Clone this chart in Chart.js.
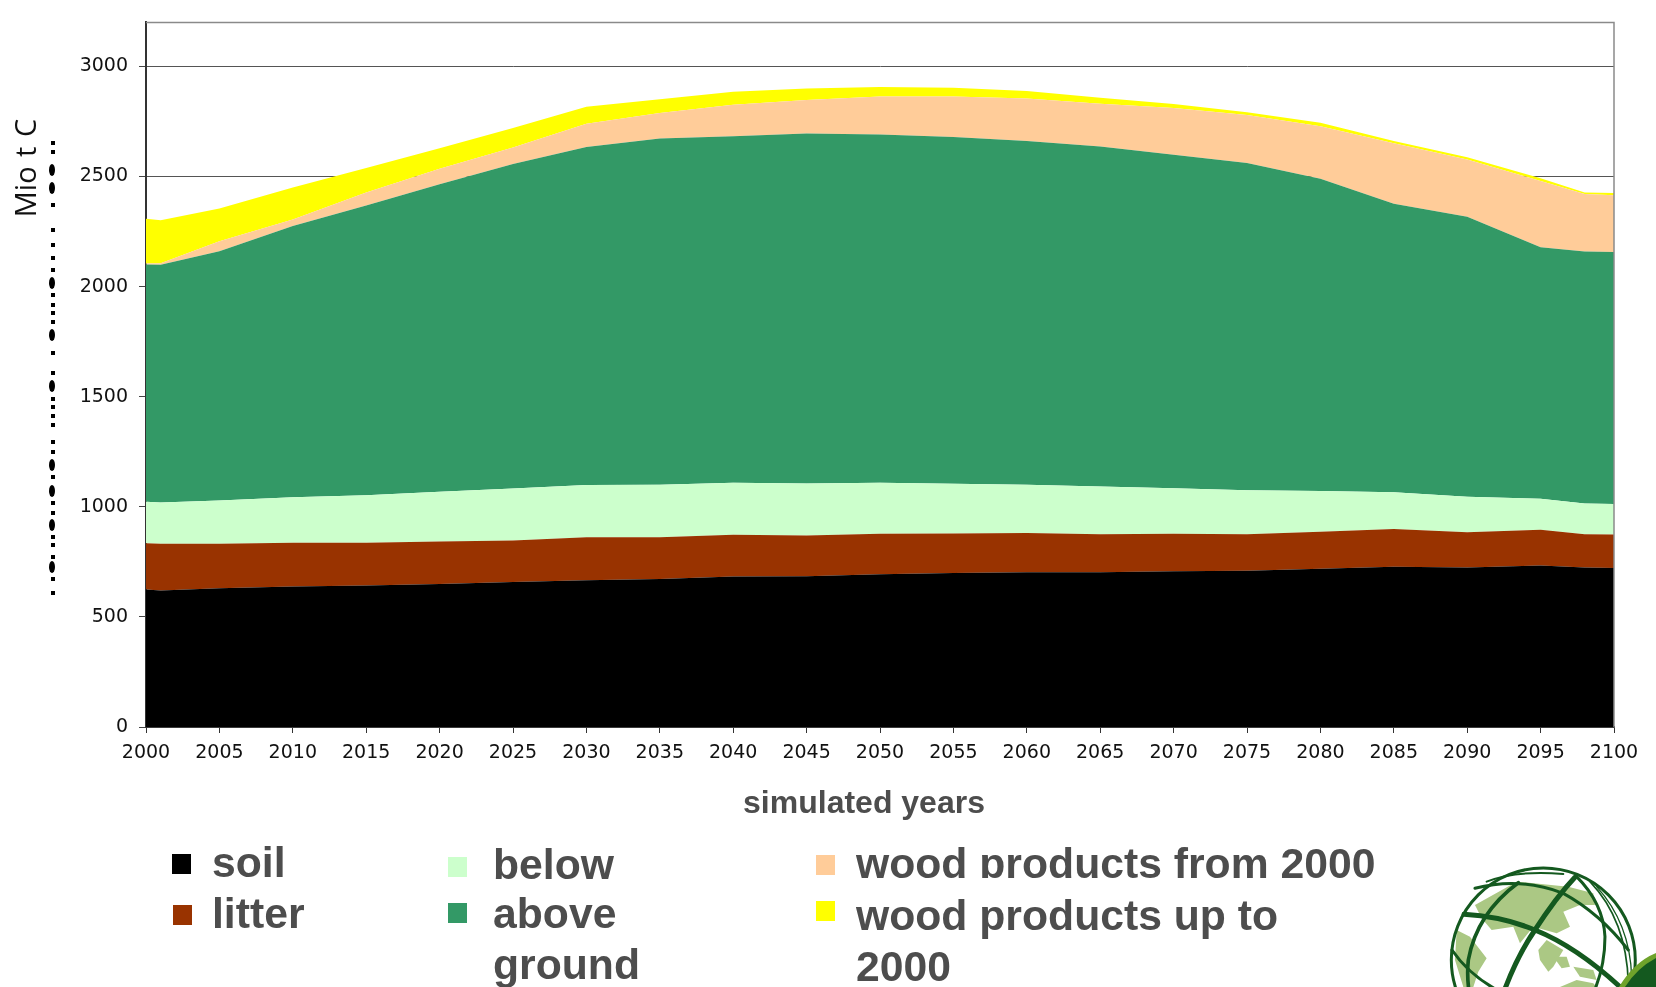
<!DOCTYPE html>
<html><head><meta charset="utf-8">
<script src="https://cdn.jsdelivr.net/npm/chart.js@4"></script>
<style>
html,body{margin:0;padding:0;background:#fff;width:1656px;height:987px;overflow:hidden}
#wrap{position:absolute;left:0;top:0;width:1656px;height:987px}
.lg{position:absolute;font:bold 42.7px "Liberation Sans",Arial,sans-serif;color:#4d4d4d;white-space:nowrap;line-height:48px;height:48px;overflow:hidden}
.sw{position:absolute;width:19px;height:20px}
#mio{position:absolute;left:24px;top:168px;font:29px "Open Sans",sans-serif;word-spacing:2px;color:#111;transform:translate(-50%,-50%) rotate(-90deg);white-space:nowrap}
#xt{position:absolute;left:864px;top:802px;font:bold 32px "Liberation Sans",Arial,sans-serif;color:#4d4d4d;transform:translate(-50%,-50%);white-space:nowrap}
svg{position:absolute;left:0;top:0}
</style></head>
<body><div id="wrap"><canvas id="c" width="1656" height="987"></canvas>
<svg width="1656" height="987" viewBox="0 0 1656 987">
 <g id="dots" fill="#000"></g>
 <g transform="translate(1300 780) scale(0.3333)">
  <g fill="#abc884">
   <path d="M525 375 L650 305 L805 320 L880 340 L885 375 L840 375 L790 395 L810 440 L770 460 L700 440 L660 490 L640 440 L575 450 L545 415Z"/>
   <path d="M470 450 L510 470 L560 535 L535 575 L520 621 L490 621 L465 540Z"/>
   <path d="M715 510 L740 480 L790 510 L760 560 L745 575 L720 540Z"/>
   <path d="M760 530 L800 530 L810 560 L785 565Z"/>
   <path d="M820 560 L880 570 L890 600 L840 590Z"/>
   <path d="M780 621 L830 600 L880 610 L890 621Z"/>
  </g>
  <g fill="none" stroke="#14591f" stroke-linecap="round">
   <circle cx="730" cy="540" r="276" stroke-width="9"/>
   <path d="M825 292 Q770 350 705 450 Q650 530 610 640" stroke-width="15"/>
   <path d="M492 403 Q610 410 705 450 Q830 500 965 625" stroke-width="15"/>
   <path d="M655 308 Q530 400 505 540 Q500 590 508 640" stroke-width="11"/>
   <path d="M525 325 Q660 290 790 340 Q900 400 985 510" stroke-width="9"/>
   <path d="M830 290 Q910 370 915 470 Q915 560 880 640" stroke-width="9"/>
   <path d="M456 510 Q510 590 610 640" stroke-width="9"/>
   <path d="M560 305 Q650 270 790 282" stroke-width="6"/>
   <path d="M870 305 Q980 420 985 610" stroke-width="5"/>
   <path d="M890 320 Q990 430 995 590" stroke-width="4"/>
  </g>
 </g>
 <path d="M1621 987 Q1635 965 1656 956 L1656 987Z" fill="#14591f"/>
 <path d="M1619 987 Q1634 962 1656 953 L1656 958 Q1637 968 1625 987Z" fill="#6fa32b"/>
</svg>
<div id="mio">Mio t C</div>
<div id="xt"></div>
<div id="legend"></div>
</div>
<script>
const years = [2000,2001,2005,2010,2015,2020,2025,2030,2035,2040,2045,2050,2055,2060,2065,2070,2075,2080,2085,2090,2095,2098,2100];
const soil = [624,620,630,638,643,650,659,667,672,684,685,694,699,703,703,707,710,719,728,724,733,724,722];
const litter = [211,212,202,199,194,192,188,195,190,189,185,184,180,178,172,171,165,168,171,160,163,151,152];
const below = [188,188,197,206,216,226,236,237,238,236,236,231,226,219,217,206,200,185,167,162,141,140,139];
const above = [1077,1079,1132,1232,1315,1397,1474,1535,1573,1574,1589,1582,1575,1561,1544,1515,1487,1418,1310,1271,1142,1145,1144];
const woodFrom2000 = [5,7,45,30,60,70,75,106,116,143,153,173,184,193,194,212,218,238,275,260,301,261,258];
const woodUpTo2000 = [203,196,149,145,111,93,88,77,62,59,52,43,39,34,28,18,12,16,10,10,12,6,10];
const yTicks = [0,500,1000,1500,2000,2500,3000];
const xTitle = 'simulated years';
const colors = ['#000000','#993300','#ccffcc','#339966','#ffcc99','#ffff00'];
const names = ['soil','litter','below ground','above ground','wood products from 2000','wood products up to 2000'];
const series = [soil,litter,below,above,woodFrom2000,woodUpTo2000];
const axisFont = '"DejaVu Sans",sans-serif';

const frame = {id:'frame',afterDraw(ch){
  const a=ch.chartArea,c=ch.ctx;c.save();c.strokeStyle='#8a8a8a';c.lineWidth=1.5;
  c.beginPath();c.moveTo(a.left,a.top);c.lineTo(a.right,a.top);c.lineTo(a.right,a.bottom);c.stroke();c.restore();
}};

new Chart(document.getElementById('c'),{
  type:'line',
  data:{datasets:series.map((s,i)=>({
    label:names[i],
    data:s.map((v,j)=>({x:years[j],y:v})),
    backgroundColor:colors[i],borderWidth:0,pointRadius:0,tension:0,
    fill:i===0?'origin':'-1'
  }))},
  plugins:[frame],
  options:{
    responsive:false,animation:false,
    layout:{padding:{left:0,right:42,top:9,bottom:0}},
    plugins:{legend:{display:false},tooltip:{enabled:false}},
    scales:{
      x:{type:'linear',min:2000,max:2100,
        afterFit(s){s.height=260},
        border:{color:'#222',width:1.5},
        grid:{drawOnChartArea:false,tickLength:6,tickColor:'#333'},
        ticks:{stepSize:5,autoSkip:false,maxRotation:0,minRotation:0,padding:9,color:'#111',
          font:{family:axisFont,size:19},callback:v=>String(v)}
      },
      y:{stacked:true,min:0,max:3200,
        afterFit(s){s.width=146},
        afterBuildTicks(s){s.ticks=yTicks.map(v=>({value:v}))},
        border:{color:'#333',width:2},
        grid:{color:'#555',lineWidth:1,tickLength:7,tickColor:'#444'},
        ticks:{padding:11,color:'#111',font:{family:axisFont,size:19},callback:v=>String(v)}
      }
    }
  }
});

document.getElementById('xt').textContent=xTitle;

// remnant of a clipped label: a column of dots beside the axis
const squares=[143,152,205,230,245,258,270,295,305,313,322,353,373,399,407,416,425,442,452,477,503,513,537,545,557,579,593];
const blobs=[170,188,283,335,386,465,491,525,567];
const NS='http://www.w3.org/2000/svg',dg=document.getElementById('dots');
squares.forEach(y=>{const r=document.createElementNS(NS,'rect');r.setAttribute('x',51);r.setAttribute('y',y-2);r.setAttribute('width',4);r.setAttribute('height',4);dg.appendChild(r);});
blobs.forEach(y=>{const e=document.createElementNS(NS,'ellipse');e.setAttribute('cx',52);e.setAttribute('cy',y);e.setAttribute('rx',3);e.setAttribute('ry',6);dg.appendChild(e);});

// Legend, built from the series names and colours
const lg=document.getElementById('legend');
const swatches=[[172,854],[173,905],[448,857],[448,903],[816,855],[816,901]];
const rows=[
 [212,876,names[0]],[212,927,names[1]],
 [493,878,'below'],[493,927,'above'],[493,978,'ground'],
 [856,877,'wood products from 2000',1],[856,929,'wood products up to'],[856,980,'2000']];
swatches.forEach((p,i)=>{const d=document.createElement('div');d.className='sw';d.style.left=p[0]+'px';d.style.top=p[1]+'px';d.style.background=colors[i];lg.appendChild(d);});
rows.forEach(r=>{const d=document.createElement('div');d.className='lg';d.textContent=r[2];d.style.left=r[0]+'px';
  d.style.top=(r[1]-38)+'px';if(r[3])d.style.height='39px';
  lg.appendChild(d);});
</script>
</body></html>
